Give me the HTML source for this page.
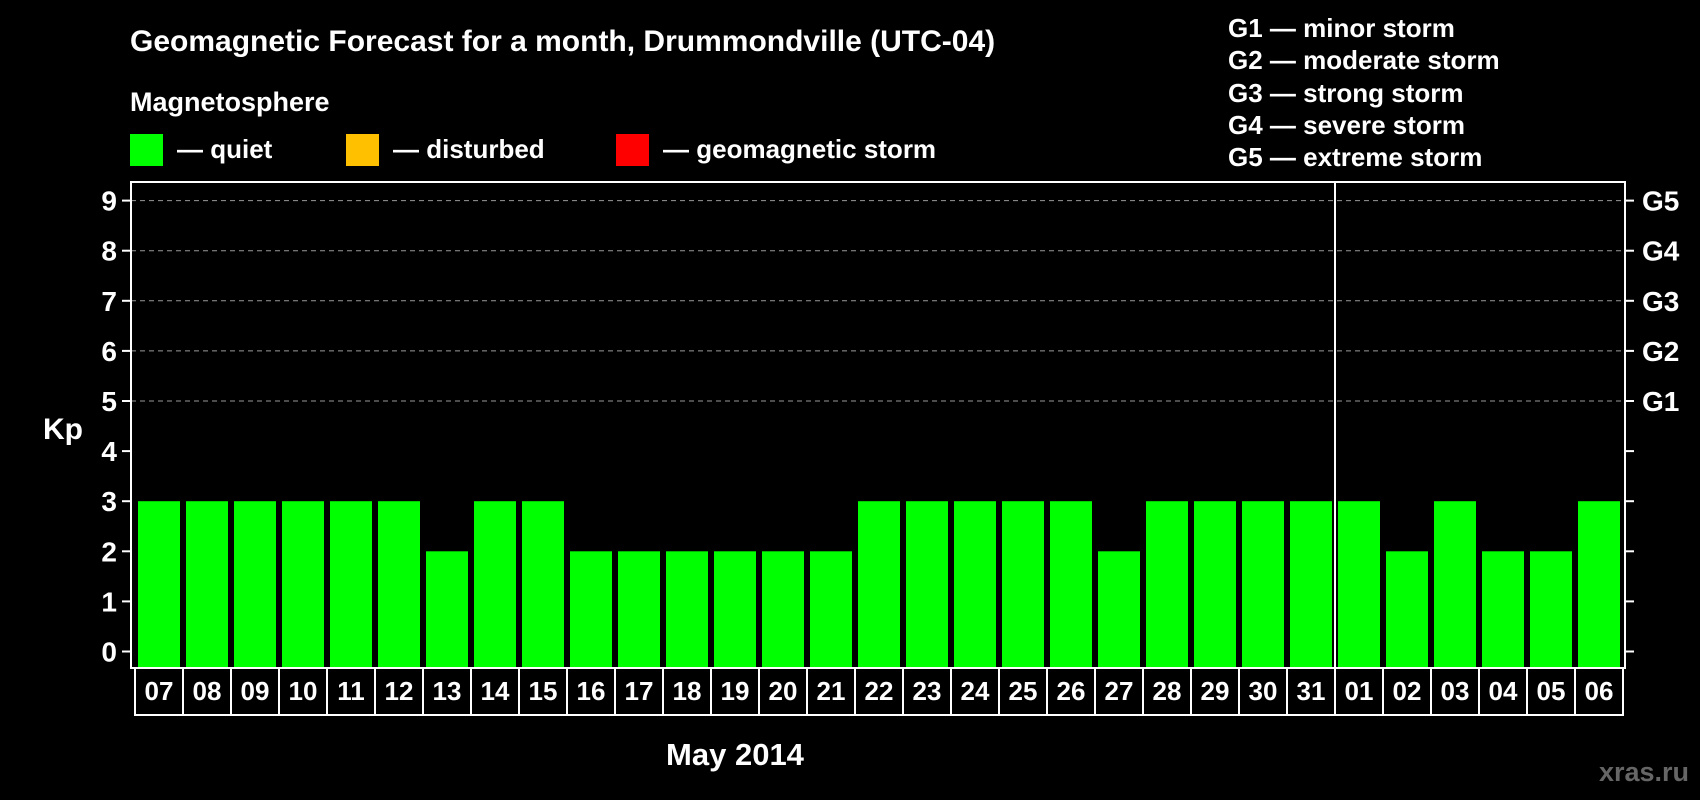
<!DOCTYPE html>
<html><head><meta charset="utf-8"><style>
html,body{margin:0;padding:0;background:#000;}
svg{display:block;font-family:"Liberation Sans",sans-serif;font-weight:bold;}
</style></head><body>
<svg id="chart" width="1700" height="800" viewBox="0 0 1700 800">
<text x="130" y="51" fill="#fff" font-size="30">Geomagnetic Forecast for a month, Drummondville (UTC-04)</text>
<text x="130" y="111" fill="#fff" font-size="27">Magnetosphere</text>
<rect x="130" y="134" width="33" height="32" fill="#00ff00"/>
<text x="177" y="158" fill="#fff" font-size="26">— quiet</text>
<rect x="346" y="134" width="33" height="32" fill="#ffc000"/>
<text x="393" y="158" fill="#fff" font-size="26">— disturbed</text>
<rect x="616" y="134" width="33" height="32" fill="#ff0000"/>
<text x="663" y="158" fill="#fff" font-size="26">— geomagnetic storm</text>
<g fill="#fff" font-size="26">
<text x="1228" y="37">G1 — minor storm</text>
<text x="1228" y="69">G2 — moderate storm</text>
<text x="1228" y="102">G3 — strong storm</text>
<text x="1228" y="134">G4 — severe storm</text>
<text x="1228" y="166">G5 — extreme storm</text>
</g>
<text x="43" y="439" fill="#fff" font-size="30">Kp</text>
<text x="735" y="765" fill="#fff" font-size="31" text-anchor="middle">May 2014</text>
<text x="1689" y="781" fill="#666" font-size="27" text-anchor="end">xras.ru</text>
<g id="grid"></g><g id="bars"></g><g id="axes"></g>
</svg>
<script>
const days=["07","08","09","10","11","12","13","14","15","16","17","18","19","20","21","22","23","24","25","26","27","28","29","30","31","01","02","03","04","05","06"];
const kp=[3,3,3,3,3,3,2,3,3,2,2,2,2,2,2,3,3,3,3,3,2,3,3,3,3,3,2,3,2,2,3];
const yTicks=[0,1,2,3,4,5,6,7,8,9];
const gLabels=["G1","G2","G3","G4","G5"];
const NS="http://www.w3.org/2000/svg";
const L=131,R=1625,T=182,B=668;
const y=v=>651.5-v*50.1;
const x=i=>138+i*48;
function mk(t,a,p){const e=document.createElementNS(NS,t);for(const k in a)e.setAttribute(k,a[k]);p.appendChild(e);return e;}
const grid=document.getElementById('grid'),bars=document.getElementById('bars'),axes=document.getElementById('axes');
yTicks.forEach(v=>{
  if(v>=5){const g=mk('line',{x1:L,x2:R,y1:y(v),y2:y(v),stroke:'#999','stroke-dasharray':'5,4','stroke-width':1},grid);
  
  }
  mk('line',{x1:L-9,x2:L,y1:y(v),y2:y(v),stroke:'#fff','stroke-width':2},axes);
  mk('line',{x1:R,x2:R+9,y1:y(v),y2:y(v),stroke:'#fff','stroke-width':2},axes);
  const t=mk('text',{x:117,y:y(v)+10,fill:'#fff','font-size':28,'text-anchor':'end'},axes);t.textContent=v;
  
  
});
gLabels.forEach((g,i)=>{const t=mk('text',{x:1642,y:y(5+i)+10,fill:'#fff','font-size':28},axes);t.textContent=g;
  
  });
kp.forEach((v,i)=>{
  const c=v>=5?'#ff0000':(v>=4?'#ffc000':'#00ff00');
  const r=mk('rect',{x:x(i),y:y(v),width:42,height:B-y(v),fill:c},bars);
  
  
  mk('rect',{x:x(i)-3,y:B,width:48,height:47,fill:'none',stroke:'#fff','stroke-width':2},axes);
  const t=mk('text',{x:x(i)+21,y:700,fill:'#fff','font-size':26,'text-anchor':'middle'},axes);t.textContent=days[i];
  
  
});
const f=mk('rect',{x:L,y:T,width:R-L,height:B-T,fill:'none',stroke:'#fff','stroke-width':2},axes);


const s=mk('line',{x1:x(25)-3,x2:x(25)-3,y1:T,y2:B+47,stroke:'#fff','stroke-width':2},axes);


</script>
</body></html>
